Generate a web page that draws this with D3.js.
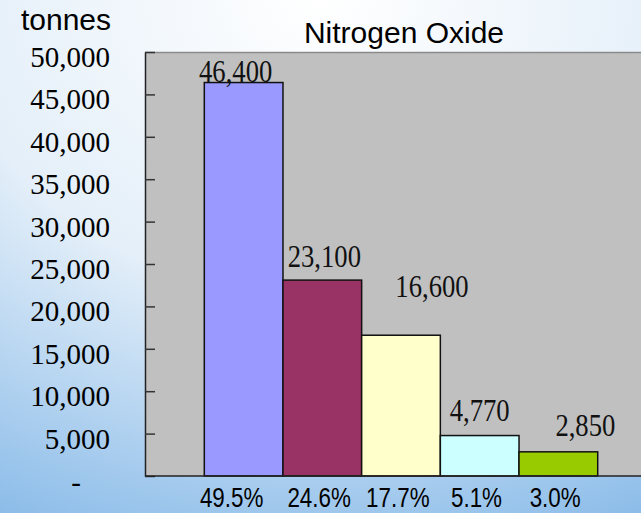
<!DOCTYPE html>
<html>
<head>
<meta charset="utf-8">
<script src="https://cdn.jsdelivr.net/npm/d3@7"></script>
<style>
  body { margin: 0; }
  svg { display: block; }
</style>
</head>
<body>
<div id="chart"></div>
<script>
// data
const categories = ["49.5%", "24.6%", "17.7%", "5.1%", "3.0%"];
const values = [46400, 23100, 16600, 4770, 2850];
const barColors = ["#9999ff", "#993366", "#ffffcc", "#ccffff", "#99cc00"];
const yTicks = [0, 5000, 10000, 15000, 20000, 25000, 30000, 35000, 40000, 45000, 50000];

const W = 641, H = 513;
const plot = { left: 145, top: 52, right: 641, bottom: 476 };

const svg = d3.select("#chart").append("svg")
    .attr("width", W)
    .attr("height", H);

// background gradient
const defs = svg.append("defs");
const grad = defs.append("radialGradient")
    .attr("id", "bg")
    .attr("cx", "50%").attr("cy", "0%")
    .attr("r", "115%")
    .attr("gradientUnits", "objectBoundingBox");
grad.append("stop").attr("offset", "0%").attr("stop-color", "#ffffff");
grad.append("stop").attr("offset", "50%").attr("stop-color", "#e4eff9");
grad.append("stop").attr("offset", "100%").attr("stop-color", "#86b9e8");
svg.append("rect").attr("width", W).attr("height", H).attr("fill", "url(#bg)");

// scales
const x = d3.scaleBand()
    .domain(categories)
    .range([204.3, 597.7])
    .padding(0);

const y = d3.scaleLinear()
    .domain([0, 50000])
    .range([plot.bottom, plot.top]);

// plot area
svg.append("rect")
    .attr("x", plot.left)
    .attr("y", plot.top)
    .attr("width", plot.right - plot.left)
    .attr("height", plot.bottom - plot.top)
    .attr("fill", "#c0c0c0");
svg.append("line")
    .attr("x1", plot.left).attr("x2", plot.right)
    .attr("y1", plot.top + 0.5).attr("y2", plot.top + 0.5)
    .attr("stroke", "#8a8a8a").attr("stroke-width", 1.5);

// bars
svg.selectAll(".bar")
    .data(values)
    .enter().append("rect")
    .attr("class", "bar")
    .attr("x", (d, i) => x(categories[i]))
    .attr("y", d => y(d))
    .attr("width", x.bandwidth())
    .attr("height", d => y(0) - y(d))
    .attr("fill", (d, i) => barColors[i])
    .attr("stroke", "#111")
    .attr("stroke-width", 1.5);

// y axis, ticks point inward
const yAxis = svg.append("g")
    .attr("class", "y axis")
    .attr("transform", `translate(${plot.left},0)`)
    .call(d3.axisLeft(y)
        .tickValues(yTicks)
        .tickSizeInner(-10)
        .tickSizeOuter(0)
        .tickPadding(35)
        .tickFormat(d => d === 0 ? "-" : d3.format(",")(d)));
yAxis.select(".domain").attr("stroke", "#222").attr("stroke-width", 1.5);
yAxis.selectAll(".tick line").attr("stroke", "#333").attr("stroke-width", 1.5);
yAxis.selectAll("text")
    .attr("fill", "#000")
    .style("font-family", "'Liberation Serif', 'Times New Roman', serif")
    .style("font-size", "29px")
    .attr("dy", "0.5em");
yAxis.selectAll("text").filter(d => d === 0)
    .attr("dx", -29)
    .attr("dy", "0.55em");

// x axis with the shares
const xAxis = svg.append("g")
    .attr("class", "x axis")
    .attr("transform", `translate(0,${plot.bottom})`)
    .call(d3.axisBottom(x).tickSize(0).tickPadding(6));
xAxis.select(".domain").attr("d", `M${plot.left},0H${plot.right}`)
    .attr("stroke", "#222").attr("stroke-width", 1.5);
xAxis.selectAll("text")
    .attr("fill", "#000")
    .style("font-family", "'Liberation Sans', Arial, sans-serif")
    .style("font-size", "28px")
    .attr("y", 31)
    .attr("dy", 0)
    .attr("transform", "scale(0.8,1)")
    .attr("dx", (d, i) => i === 0 ? -15 : -4);

// value labels, placed by hand like the original
const labelOffsets = [[-8, -1], [2, -13], [31, -38], [0, -15], [27, -16]];
svg.selectAll(".value-label")
    .data(values)
    .enter().append("text")
    .attr("class", "value-label")
    .attr("transform", (d, i) =>
        `translate(${x(categories[i]) + x.bandwidth() / 2 + labelOffsets[i][0]},${y(d) + labelOffsets[i][1]}) scale(0.86,1)`)
    .attr("text-anchor", "middle")
    .style("font-family", "'Liberation Serif', 'Times New Roman', serif")
    .style("font-size", "31px")
    .attr("fill", "#111")
    .text(d => d3.format(",")(d));

// title and unit
svg.append("text")
    .attr("x", 404)
    .attr("y", 43)
    .attr("text-anchor", "middle")
    .style("font-family", "'Liberation Sans', Arial, sans-serif")
    .style("font-size", "30px")
    .text("Nitrogen Oxide");

svg.append("text")
    .attr("x", 66)
    .attr("y", 30)
    .attr("text-anchor", "middle")
    .style("font-family", "'Liberation Sans', Arial, sans-serif")
    .style("font-size", "30px")
    .text("tonnes");
</script>
</body>
</html>
